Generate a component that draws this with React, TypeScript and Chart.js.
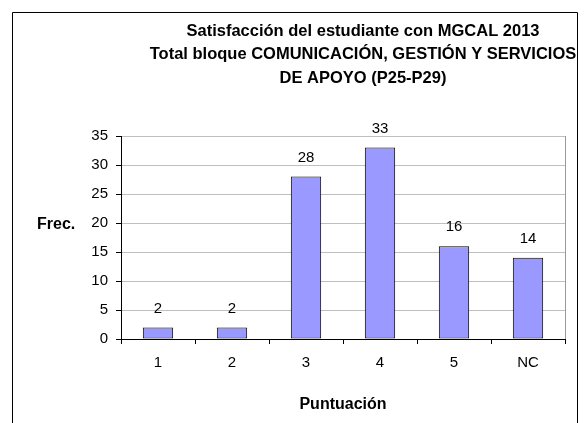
import React, { useEffect, useRef } from "react";
import { Chart, registerables } from "chart.js";

Chart.register(...registerables);

const categories: string[] = ["1", "2", "3", "4", "5", "NC"];
const frequencies: number[] = [2, 2, 28, 33, 16, 14];
const titleLines: string[] = [
  "Satisfacción del estudiante con MGCAL 2013",
  "Total bloque COMUNICACIÓN, GESTIÓN Y SERVICIOS",
  "DE APOYO (P25-P29)",
];
const yAxisLabel = "Frec.";
const xAxisLabel = "Puntuación";
const yMin = 0;
const yMax = 35;
const yStep = 5;

const FONT = "'Liberation Sans', Arial, Helvetica, sans-serif";

const decorPlugin = {
  id: "decor",
  beforeDraw(chart: any) {
    const ctx = chart.ctx;
    ctx.save();
    ctx.fillStyle = "#ffffff";
    ctx.fillRect(0, 0, chart.width, chart.height);
    ctx.strokeStyle = "#000000";
    ctx.lineWidth = 1;
    ctx.beginPath();
    ctx.moveTo(12.5, chart.height + 5);
    ctx.lineTo(12.5, 12.5);
    ctx.lineTo(577.5, 12.5);
    ctx.lineTo(577.5, chart.height + 5);
    ctx.stroke();
    ctx.restore();
  },
  afterDraw(chart: any) {
    const ctx = chart.ctx;
    const area = chart.chartArea;
    ctx.save();
    // plot area right edge
    ctx.strokeStyle = "#999999";
    ctx.lineWidth = 1;
    ctx.beginPath();
    ctx.moveTo(Math.round(area.right) + 0.5, area.top);
    ctx.lineTo(Math.round(area.right) + 0.5, area.bottom);
    ctx.stroke();

    // title
    ctx.fillStyle = "#000000";
    ctx.textAlign = "center";
    ctx.textBaseline = "middle";
    ctx.font = `bold 16.5px ${FONT}`;
    titleLines.forEach((line, i) => {
      ctx.fillText(line, 363, 31 + i * 23.5);
    });

    // y axis label (horizontal)
    ctx.font = `bold 16px ${FONT}`;
    ctx.textAlign = "left";
    ctx.fillText(yAxisLabel, 37, 225);

    // data labels
    ctx.font = `15px ${FONT}`;
    ctx.textAlign = "center";
    const meta = chart.getDatasetMeta(0);
    meta.data.forEach((bar: any, i: number) => {
      ctx.fillText(String(frequencies[i]), bar.x, bar.y - 19);
    });
    ctx.restore();
  },
};

export default function App() {
  const canvasRef = useRef<HTMLCanvasElement | null>(null);

  useEffect(() => {
    if (!canvasRef.current) return;
    const chart = new Chart(canvasRef.current, {
      type: "bar",
      data: {
        labels: categories,
        datasets: [
          {
            data: frequencies,
            backgroundColor: "#9999FF",
            borderColor: "#000000",
            borderWidth: 1,
            borderSkipped: false,
            barPercentage: 0.41,
            categoryPercentage: 1,
          },
        ],
      },
      options: {
        animation: false,
        responsive: false,
        devicePixelRatio: 1,
        layout: { padding: { left: 0, right: 22, top: 136, bottom: 0 } },
        plugins: {
          legend: { display: false },
          title: { display: false },
          tooltip: { enabled: false },
        },
        scales: {
          x: {
            afterFit(scale: any) {
              scale.height = 84;
            },
            grid: {
              display: true,
              drawOnChartArea: false,
              drawTicks: true,
              tickLength: 5,
              tickColor: "#000000",
              offset: true,
            },
            border: { display: true, color: "#000000", width: 1 },
            ticks: {
              color: "#000000",
              font: { family: FONT, size: 15 },
              padding: 10,
              maxRotation: 0,
            },
            title: {
              display: true,
              text: xAxisLabel,
              color: "#000000",
              font: { family: FONT, size: 16, weight: "bold" },
              padding: { top: 0, bottom: 9 },
            },
          },
          y: {
            min: yMin,
            max: yMax,
            afterFit(scale: any) {
              scale.width = 121;
            },
            grid: {
              color: "#BFBFBF",
              tickColor: "#000000",
              tickLength: 5,
              drawTicks: true,
            },
            border: { display: true, color: "#000000", width: 1 },
            ticks: {
              stepSize: yStep,
              color: "#000000",
              font: { family: FONT, size: 15 },
              padding: 8,
            },
          },
        },
      },
      plugins: [decorPlugin],
    });
    return () => chart.destroy();
  }, []);

  return (
    <div
      style={{
        position: "fixed",
        left: 0,
        top: 0,
        width: 587,
        height: 423,
        overflow: "hidden",
        background: "#ffffff",
      }}
    >
      <canvas ref={canvasRef} width={587} height={423} style={{ width: 587, height: 423 }} />
    </div>
  );
}
